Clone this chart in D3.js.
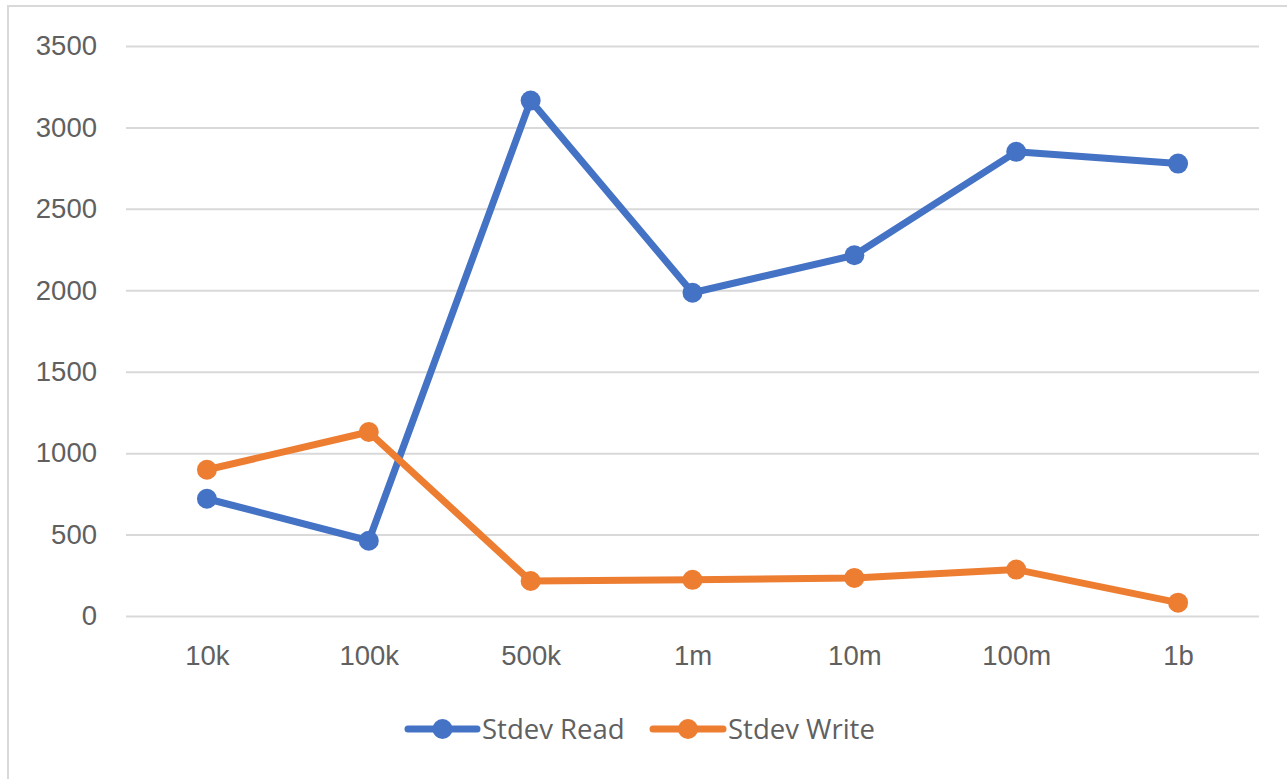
<!DOCTYPE html>
<html>
<head>
<meta charset="utf-8">
<script src="https://cdn.jsdelivr.net/npm/d3@7"></script>
<style>
  html, body { margin: 0; padding: 0; background: #ffffff; }
  svg { display: block; font-family: "Open Sans", "Noto Sans", sans-serif; }
</style>
</head>
<body>
<svg id="chart" width="1287" height="779"></svg>
<script>
// Dataset sizes on the x axis
const categories = ["10k", "100k", "500k", "1m", "10m", "100m", "1b"];
// Standard deviation of read and write latency per dataset size
const stdevRead  = [720, 462, 3165, 1985, 2215, 2850, 2778];
const stdevWrite = [898, 1130, 215, 222, 234, 285, 82];
const yTicks = [0, 500, 1000, 1500, 2000, 2500, 3000, 3500];

const series = [
  { name: "Stdev Read",  values: stdevRead,  color: "#4472C4" },
  { name: "Stdev Write", values: stdevWrite, color: "#ED7D31" }
];

const svg = d3.select("#chart");
const W = 1287, H = 779;
const plot = { left: 126, right: 1259, top: 46, bottom: 616 };
const fontSize = "27.5px";
const textColor = "#606060";

// outer chart frame
svg.append("rect")
  .attr("x", 8).attr("y", 6)
  .attr("width", W + 20).attr("height", H + 20)
  .attr("fill", "#ffffff")
  .attr("stroke", "#d9d9d9")
  .attr("stroke-width", 2);

const x = d3.scalePoint()
  .domain(categories)
  .range([plot.left, plot.right])
  .padding(0.5);

const y = d3.scaleLinear()
  .domain([0, 3500])
  .range([plot.bottom, plot.top]);

// horizontal gridlines with value labels
const yAxis = d3.axisLeft(y)
  .tickValues(yTicks)
  .tickSize(-(plot.right - plot.left))
  .tickPadding(29)
  .tickFormat(d3.format("d"));

const gy = svg.append("g")
  .attr("transform", `translate(${plot.left},0)`)
  .call(yAxis);
gy.select(".domain").remove();
gy.selectAll(".tick line")
  .attr("stroke", "#d9d9d9")
  .attr("stroke-width", 2);
gy.selectAll(".tick text")
  .attr("fill", textColor)
  .style("font-size", fontSize);

// category labels
const xAxis = d3.axisBottom(x).tickSize(0).tickPadding(29);
const gx = svg.append("g")
  .attr("transform", `translate(0,${plot.bottom})`)
  .call(xAxis);
gx.select(".domain").remove();
gx.selectAll(".tick text")
  .attr("fill", textColor)
  .style("font-size", fontSize);

// series lines and markers
const line = d3.line()
  .x((d, i) => x(categories[i]))
  .y(d => y(d));

series.forEach(s => {
  const g = svg.append("g");
  g.append("path")
    .datum(s.values)
    .attr("d", line)
    .attr("fill", "none")
    .attr("stroke", s.color)
    .attr("stroke-width", 7)
    .attr("stroke-linejoin", "round")
    .attr("stroke-linecap", "round");
  g.selectAll("circle")
    .data(s.values)
    .join("circle")
    .attr("cx", (d, i) => x(categories[i]))
    .attr("cy", d => y(d))
    .attr("r", 10)
    .attr("fill", s.color);
});

// legend
const legendY = 729;
const legendItems = [
  { x0: 408, x1: 477, tx: 482 },
  { x0: 653, x1: 723, tx: 728 }
];
series.forEach((s, i) => {
  const L = legendItems[i];
  const g = svg.append("g");
  g.append("line")
    .attr("x1", L.x0).attr("x2", L.x1)
    .attr("y1", legendY).attr("y2", legendY)
    .attr("stroke", s.color)
    .attr("stroke-width", 7)
    .attr("stroke-linecap", "round");
  g.append("circle")
    .attr("cx", (L.x0 + L.x1) / 2)
    .attr("cy", legendY)
    .attr("r", 10)
    .attr("fill", s.color);
  g.append("text")
    .attr("x", L.tx)
    .attr("y", legendY)
    .attr("dy", "0.35em")
    .attr("fill", textColor)
    .style("font-size", fontSize)
    .text(s.name);
});
</script>
</body>
</html>
